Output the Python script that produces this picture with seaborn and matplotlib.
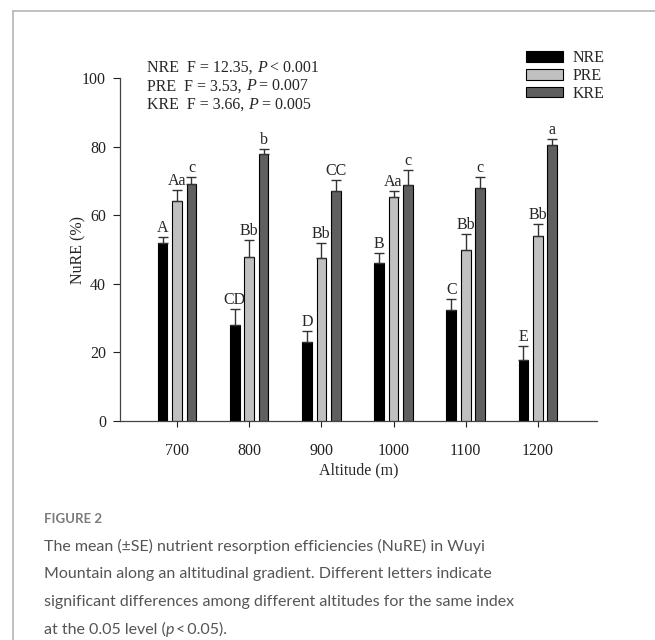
"""Nutrient resorption efficiencies along an altitudinal gradient (bar chart)."""

import matplotlib

matplotlib.use("Agg")
import matplotlib.pyplot as plt  # noqa: E402
import pandas as pd  # noqa: E402
import seaborn as sns  # noqa: E402
from matplotlib.lines import Line2D  # noqa: E402

altitudes = ["700", "800", "900", "1000", "1100", "1200"]
indices = ["NRE", "PRE", "KRE"]

nre_mean = [52.0, 28.1, 23.1, 46.2, 32.4, 17.8]
nre_se = [1.6, 4.6, 3.2, 2.7, 3.3, 4.2]
pre_mean = [64.2, 47.8, 47.4, 65.2, 49.9, 54.0]
pre_se = [3.1, 4.9, 4.6, 1.9, 4.6, 3.4]
kre_mean = [69.1, 77.8, 67.0, 68.8, 68.0, 80.5]
kre_se = [2.0, 1.6, 3.3, 4.5, 3.2, 1.7]

nre_letters = ["A", "CD", "D", "B", "C", "E"]
pre_letters = ["Aa", "Bb", "Bb", "Aa", "Bb", "Bb"]
kre_letters = ["c", "b", "CC", "c", "c", "a"]

stats_lines = [
    ("NRE  F = 12.35, ", "P", " < 0.001"),
    ("PRE  F = 3.53, ", "P", " = 0.007"),
    ("KRE  F = 3.66, ", "P", " = 0.005"),
]

colors = {"NRE": "#000000", "PRE": "#c0c0c0", "KRE": "#5f5f5f"}
SERIF = "Liberation Serif"
FS = 11.5

sns.set_theme(style="ticks")
plt.rcParams["font.family"] = [SERIF, "DejaVu Serif"]

df = pd.DataFrame(
    {
        "Altitude": altitudes * 3,
        "Index": ["NRE"] * 6 + ["PRE"] * 6 + ["KRE"] * 6,
        "mean": nre_mean + pre_mean + kre_mean,
        "se": nre_se + pre_se + kre_se,
        "letter": nre_letters + pre_letters + kre_letters,
    }
)

fig = plt.figure(figsize=(6.55, 6.40), dpi=100)
ax = fig.add_axes([0.1832, 0.3422, 0.7283, 0.5358])

sns.barplot(
    data=df,
    x="Altitude",
    y="mean",
    hue="Index",
    hue_order=indices,
    order=altitudes,
    palette=colors,
    width=0.6,
    gap=0.33,
    errorbar=None,
    edgecolor="black",
    linewidth=0.8,
    legend=False,
    ax=ax,
)

# upward-only SE bars + significance letters
for container, idx in zip(ax.containers, indices):
    sub = df[df["Index"] == idx].set_index("Altitude").loc[altitudes]
    xs = [p.get_x() + p.get_width() / 2 for p in container.patches]
    ax.errorbar(
        xs,
        sub["mean"],
        yerr=[[0] * len(xs), sub["se"]],
        fmt="none",
        ecolor="#333333",
        elinewidth=1.0,
        capsize=3.6,
        capthick=1.0,
    )
    for x, m, s, lab in zip(xs, sub["mean"], sub["se"], sub["letter"]):
        ax.text(x, m + s + 0.3, lab, ha="center", va="bottom", fontsize=FS)

ax.set_ylim(0, 100)
ax.set_xlim(-0.79, 5.82)
ax.set_yticks([0, 20, 40, 60, 80, 100])
ax.tick_params(axis="both", labelsize=FS, width=0.8, colors="#222222")
ax.tick_params(axis="y", length=5, pad=5)
ax.tick_params(axis="x", length=4, pad=12)
ax.set_ylabel("NuRE (%)", fontsize=FS, labelpad=-3)
ax.set_xlabel("Altitude (m)", fontsize=FS, labelpad=2)
sns.despine(ax=ax)
ax.spines["left"].set_bounds(0, 100)
for sp in ("left", "bottom"):
    ax.spines[sp].set_linewidth(0.9)
    ax.spines[sp].set_color("#444444")

# F / P statistics, italic P
for i, (pre, pit, post) in enumerate(stats_lines):
    t = fig.text(147 / 655, 1 - (68 + 18.3 * i) / 640, pre, fontsize=FS,
                 ha="left", va="center")
    t2 = ax.annotate(pit, xy=(1, 0), xycoords=t, ha="left", va="bottom",
                     fontsize=FS, style="italic", annotation_clip=False)
    ax.annotate(post, xy=(1, 0), xycoords=t2, ha="left", va="bottom",
                fontsize=FS, annotation_clip=False)

handles = [
    plt.Rectangle((0, 0), 1, 1, facecolor=colors[k], edgecolor="black",
                  linewidth=0.8)
    for k in indices
]
fig.legend(
    handles,
    indices,
    loc="upper left",
    bbox_to_anchor=(515 / 655, 1 - 39 / 640),
    frameon=False,
    fontsize=FS,
    handlelength=2.3,
    handleheight=0.6,
    handletextpad=0.6,
    labelspacing=0.12,
    borderpad=0.2,
)

# page frame (top + left rules)
fig.add_artist(Line2D([13 / 655, 13 / 655], [0, 1 - 11 / 640],
                      transform=fig.transFigure, color="#b5b5b5", lw=1.2))
fig.add_artist(Line2D([13 / 655, 1], [1 - 11 / 640, 1 - 11 / 640],
                      transform=fig.transFigure, color="#b5b5b5", lw=1.2))

# caption
CAP = ["Lato", "DejaVu Sans"]
CX = 44 / 655
CFS = 11.5
fig.text(CX, 1 - 519 / 640, "FIGURE 2", fontsize=9.5, family=CAP,
         color="#7a7a7a", fontweight="bold", va="center")
caption_lines = [
    "The mean (\u00b1SE) nutrient resorption efficiencies (NuRE) in Wuyi",
    "Mountain along an altitudinal gradient. Different letters indicate",
    "significant differences among different altitudes for the same index",
]
for i, line in enumerate(caption_lines):
    fig.text(CX, 1 - (546 + 28 * i) / 640, line, fontsize=CFS,
             family=CAP, color="#555555", va="center")
c1 = fig.text(CX, 1 - (546 + 28 * 3) / 640, "at the 0.05 level (",
              fontsize=CFS, family=CAP, color="#555555", va="center")
c2 = ax.annotate("p", xy=(1, 0), xycoords=c1, ha="left", va="bottom",
                 fontsize=CFS, family=CAP, style="italic", color="#555555",
                 annotation_clip=False)
ax.annotate("\u2009<\u20090.05).", xy=(1, 0), xycoords=c2, ha="left",
            va="bottom", fontsize=CFS, family=CAP, color="#555555",
            annotation_clip=False)

fig.savefig("out.png", dpi=100)
